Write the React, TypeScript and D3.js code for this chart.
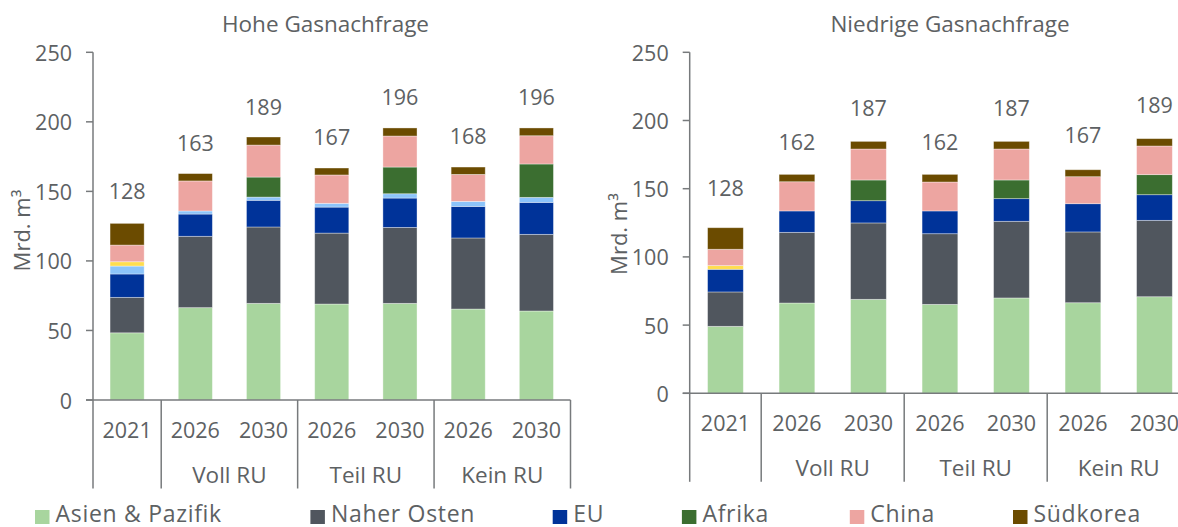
import React from "react";
import * as d3 from "d3";

// ---- data ----
const categories = ["c0", "c1", "c2", "c3", "c4", "c5", "c6"];
const years = ["2021", "2026", "2030", "2026", "2030", "2026", "2030"];
const groups = ["", "Voll RU", "Voll RU", "Teil RU", "Teil RU", "Kein RU", "Kein RU"];

const seriesKeys = ["asien", "naher", "eu", "lightblue", "yellow", "afrika", "china", "suedkorea"];
const seriesNames = ["Asien & Pazifik", "Naher Osten", "EU", "", "", "Afrika", "China", "Südkorea"];
const legendKeys = ["asien", "naher", "eu", "afrika", "china", "suedkorea"];

// Hohe Gasnachfrage
const hoheAsien = [48.3, 66.4, 69.5, 69.0, 69.5, 65.4, 64.0];
const hoheNaher = [25.5, 51.3, 54.9, 51.0, 54.6, 51.1, 55.1];
const hoheEU = [16.8, 16.0, 19.2, 18.7, 21.1, 22.7, 23.0];
const hoheLightBlue = [5.7, 2.2, 2.3, 2.7, 3.1, 3.6, 3.6];
const hoheYellow = [3.1, 0, 0, 0, 0, 0, 0];
const hoheAfrika = [0, 0, 14.4, 0, 19.2, 0, 24.0];
const hoheChina = [12.0, 21.6, 23.0, 20.4, 22.3, 19.4, 20.3];
const hoheSuedkorea = [15.6, 5.3, 5.8, 5.0, 5.8, 5.3, 5.6];
const hoheTotals = [128, 163, 189, 167, 196, 168, 196];

// Niedrige Gasnachfrage
const niedAsien = [49.1, 66.2, 68.9, 65.2, 69.9, 66.4, 70.8];
const niedNaher = [25.2, 51.8, 56.0, 51.8, 56.2, 51.9, 56.0];
const niedEU = [16.6, 15.7, 16.3, 16.7, 16.6, 20.7, 18.8];
const niedLightBlue = [0, 0, 0, 0, 0, 0, 0];
const niedYellow = [2.7, 0, 0, 0, 0, 0, 0];
const niedAfrika = [0, 0, 15.2, 0, 13.7, 0, 14.7];
const niedChina = [12.0, 21.4, 22.7, 21.2, 22.7, 19.8, 21.0];
const niedSuedkorea = [15.8, 5.4, 5.6, 5.6, 5.6, 5.1, 5.4];
const niedTotals = [128, 162, 187, 162, 187, 167, 189];

const yTicks = [0, 50, 100, 150, 200, 250];

// ---- styles ----
const colors: Record<string, string> = {
  asien: "#A8D59E",
  naher: "#50565E",
  eu: "#003399",
  lightblue: "#8CC4FA",
  yellow: "#FFDD4F",
  afrika: "#3B6E30",
  china: "#EDA5A1",
  suedkorea: "#6B4B00",
};
const FONT = "'Open Sans', sans-serif";
const TEXT = "#5d6163";
const LINE = "#777a7c";
const FS_NUM = 21.5;
const FS_WORD = 22.5;
const FS_LEGEND = 23;

function buildRows(cols: number[][]) {
  return categories.map((c, i) => {
    const row: Record<string, number | string> = { cat: c };
    seriesKeys.forEach((k, j) => (row[k] = cols[j][i]));
    return row;
  });
}

type PanelProps = {
  title: string;
  titleX: number;
  rows: Record<string, number | string>[];
  totals: number[];
  x0: number;
  x1: number;
  yBase: number;
  yTop: number;
  yTitleX: number;
  yTitleY: number;
};

function Panel(p: PanelProps) {
  const x = d3.scaleBand<string>().domain(categories).range([p.x0, p.x1]).paddingInner(0.5).paddingOuter(0.25);
  const y = d3.scaleLinear().domain([0, 250]).range([p.yBase, p.yTop]);
  const stack = d3.stack<Record<string, number | string>>().keys(seriesKeys).value((d, k) => d[k] as number);
  const stacked = stack(p.rows);
  const step = x.step();
  const catX0 = (i: number) => (x(categories[i]) as number) - step * 0.25;
  const sepIdx = [0, 1, 3, 5, 7];
  const sepX = (i: number) => (i < 7 ? catX0(i) : catX0(6) + step);
  const groupCenters: { label: string; cx: number }[] = [];
  groups.forEach((g, i) => {
    if (!g) return;
    const ex = groupCenters.find((d) => d.label === g);
    const c = catX0(i) + step / 2;
    if (ex) ex.cx = (ex.cx + c) / 2;
    else groupCenters.push({ label: g, cx: c });
  });
  return (
    <g>
      <text x={p.titleX} y={23} textAnchor="middle" dominantBaseline="central" fontSize={FS_WORD} fill={TEXT}>
        {p.title}
      </text>
      <text
        transform={`translate(${p.yTitleX},${p.yTitleY}) rotate(-90)`}
        textAnchor="middle"
        dominantBaseline="central"
        fontSize={22}
        fill={TEXT}
      >
        Mrd. m³
      </text>
      {stacked.map((s) => (
        <g key={s.key}>
          {s.map((d, i) =>
            d[1] - d[0] > 0 ? (
              <rect
                key={i}
                x={x(categories[i])}
                width={x.bandwidth()}
                y={y(d[1])}
                height={y(d[0]) - y(d[1])}
                fill={colors[s.key]}
                stroke="rgba(255,255,255,0.45)"
                strokeWidth={0.8}
              />
            ) : null
          )}
        </g>
      ))}
      {p.totals.map((t, i) => (
        <text
          key={i}
          x={(x(categories[i]) as number) + x.bandwidth() / 2}
          y={y(t) - 31}
          textAnchor="middle"
          dominantBaseline="central"
          fontSize={FS_NUM}
          fill={TEXT}
        >
          {t}
        </text>
      ))}
      {/* y axis */}
      <line x1={p.x0} x2={p.x0} y1={y(250)} y2={p.yBase} stroke={LINE} strokeWidth={1.5} />
      {yTicks.map((t) => (
        <g key={t}>
          <line x1={p.x0 - 7} x2={p.x0} y1={y(t)} y2={y(t)} stroke={LINE} strokeWidth={1.5} />
          <text x={p.x0 - 21} y={y(t)} textAnchor="end" dominantBaseline="central" fontSize={FS_NUM} fill={TEXT}>
            {t}
          </text>
        </g>
      ))}
      {/* x axis */}
      <line x1={p.x0 - 7} x2={sepX(7)} y1={p.yBase} y2={p.yBase} stroke={LINE} strokeWidth={1.5} />
      {sepIdx.map((i) => (
        <line key={i} x1={sepX(i)} x2={sepX(i)} y1={p.yBase} y2={p.yBase + 88.5} stroke={LINE} strokeWidth={1.5} />
      ))}
      {years.map((yr, i) => (
        <text
          key={i}
          x={catX0(i) + step / 2}
          y={p.yBase + 29.5}
          textAnchor="middle"
          dominantBaseline="central"
          fontSize={FS_NUM}
          fill={TEXT}
        >
          {yr}
        </text>
      ))}
      {groupCenters.map((g) => (
        <text
          key={g.label}
          x={g.cx}
          y={p.yBase + 74}
          textAnchor="middle"
          dominantBaseline="central"
          fontSize={FS_WORD}
          fill={TEXT}
        >
          {g.label}
        </text>
      ))}
    </g>
  );
}

const legendX = [35, 310.4, 552.7, 681.9, 849.8, 1013];

export default function App() {
  const hoheRows = buildRows([hoheAsien, hoheNaher, hoheEU, hoheLightBlue, hoheYellow, hoheAfrika, hoheChina, hoheSuedkorea]);
  const niedRows = buildRows([niedAsien, niedNaher, niedEU, niedLightBlue, niedYellow, niedAfrika, niedChina, niedSuedkorea]);
  return (
    <div style={{ position: "fixed", left: 0, top: 0 }}>
      <svg width={1178} height={527} style={{ display: "block", fontFamily: FONT, background: "#fff" }}>
        <Panel
          title="Hohe Gasnachfrage"
          titleX={325.5}
          rows={hoheRows}
          totals={hoheTotals}
          x0={93}
          x1={570.5}
          yBase={400}
          yTop={52.3}
          yTitleX={21}
          yTitleY={230.5}
        />
        <Panel
          title="Niedrige Gasnachfrage"
          titleX={950}
          rows={niedRows}
          totals={niedTotals}
          x0={689.7}
          x1={1190.2}
          yBase={393.3}
          yTop={52.3}
          yTitleX={618}
          yTitleY={234}
        />
        {legendKeys.map((k, i) => (
          <g key={k} transform={`translate(${legendX[i]},517)`}>
            <rect x={0} y={-7} width={14.5} height={14} fill={colors[k]} />
            <text x={20.5} y={4.5} fontSize={FS_LEGEND} letterSpacing={0.7} fill={TEXT}>
              {seriesNames[seriesKeys.indexOf(k)]}
            </text>
          </g>
        ))}
      </svg>
    </div>
  );
}
